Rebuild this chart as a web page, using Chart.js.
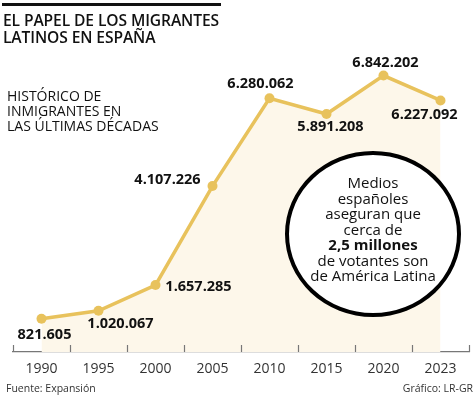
<!DOCTYPE html>
<html><head><meta charset="utf-8">
<script src="https://cdn.jsdelivr.net/npm/chart.js@4.4.1/dist/chart.umd.min.js"></script>
<style>
html,body{margin:0;padding:0;background:#fff;}
#wrap{position:relative;width:474px;height:395px;overflow:hidden;font-family:"Open Sans",sans-serif;color:#111;}
#c{position:absolute;left:0;top:0;}
.rule{position:absolute;left:2px;top:3px;width:219px;height:3px;background:#111;}
.title{position:absolute;left:3px;top:11.9px;font-weight:600;font-size:15.6px;line-height:17.5px;white-space:nowrap;letter-spacing:-0.1px;}
.sub{position:absolute;left:7px;top:88px;font-size:14px;line-height:15px;white-space:nowrap;}
.circle{position:absolute;left:285px;top:151px;width:176px;height:166px;border:4px solid #000;border-radius:50%;background:#fff;box-sizing:border-box;}
.ctext{position:absolute;left:285px;width:176px;top:175.4px;text-align:center;font-size:15px;line-height:15.5px;white-space:nowrap;}
.ctext b{font-weight:700;}
.foot{position:absolute;top:382px;font-size:10.5px;line-height:12px;color:#333;white-space:nowrap;}
</style></head>
<body>
<div id="wrap">
<canvas id="c" width="474" height="395"></canvas>
<div class="rule"></div>
<div class="title">EL PAPEL DE LOS MIGRANTES<br>LATINOS EN ESPAÑA</div>
<div class="sub">HISTÓRICO DE<br>INMIGRANTES EN<br>LAS ÚLTIMAS DÉCADAS</div>
<div class="circle"></div>
<div class="ctext">Medios<br>españoles<br>aseguran que<br>cerca de<br><b>2,5 millones</b><br>de votantes son<br>de América Latina</div>
<div class="foot" style="left:6px;">Fuente: Expansión</div>
<div class="foot" style="right:1px;">Gráfico: LR-GR</div>
</div>
<script>
const years = ['1990','1995','2000','2005','2010','2015','2020','2023'];
const migrants = [821605, 1020067, 1657285, 4107226, 6280062, 5891208, 6842202, 6227092];

function fmt(n){ return String(n).replace(/\B(?=(\d{3})+(?!\d))/g, '.'); }

const GOLD = '#e8c25c';
// label placement relative to each point (style only)
const labelOffsets = [[3,16],[22,13],[43,2],[-45,-6],[-9,-14],[4,13],[2,-13],[-16,14]];

const labelPlugin = {
  id: 'valueLabels',
  afterDatasetsDraw(chart){
    const ctx = chart.ctx;
    const meta = chart.getDatasetMeta(0);
    ctx.save();
    ctx.font = '700 14.5px "Open Sans"';
    ctx.fillStyle = '#111';
    ctx.textAlign = 'center';
    ctx.textBaseline = 'middle';
    meta.data.forEach((pt, i) => {
      const o = labelOffsets[i];
      ctx.fillText(fmt(chart.data.datasets[0].data[i]), pt.x + o[0], pt.y + o[1]);
    });
    ctx.restore();
  }
};

const tickPlugin = {
  id: 'upTicks',
  afterDraw(chart){
    const ctx = chart.ctx;
    const xs = chart.scales.x;
    const n = chart.data.labels.length;
    const bottom = chart.chartArea.bottom;
    ctx.save();
    ctx.strokeStyle = '#777';
    ctx.lineWidth = 1.2;
    for (let i = 0; i <= n; i++){
      const x = Math.round(xs.left + i * (xs.width / n)) + 0.5;
      ctx.beginPath();
      ctx.moveTo(x, bottom - 7);
      ctx.lineTo(x, bottom);
      ctx.stroke();
    }
    ctx.restore();
  }
};

new Chart(document.getElementById('c'), {
  type: 'line',
  data: {
    labels: years,
    datasets: [{
      data: migrants,
      borderColor: GOLD,
      borderWidth: 3.5,
      backgroundColor: '#fdf7ea',
      fill: 'origin',
      pointRadius: 5,
      pointBackgroundColor: GOLD,
      pointBorderWidth: 0,
      tension: 0
    }]
  },
  options: {
    responsive: false,
    animation: false,
    layout: { padding: { top: 49, left: 13, right: 3, bottom: 0 } },
    plugins: { legend: { display: false }, tooltip: { enabled: false } },
    scales: {
      x: {
        offset: true,
        grid: { display: false, offset: true },
        border: { display: true, color: '#777', width: 1.2 },
        ticks: { color: '#333', font: { family: 'Open Sans', size: 14 }, padding: 1, maxRotation: 0 },
        afterFit(s){ s.height = 43; }
      },
      y: {
        display: false,
        min: 0,
        max: 7500000
      }
    }
  },
  plugins: [labelPlugin, tickPlugin]
});
</script>
</body></html>
